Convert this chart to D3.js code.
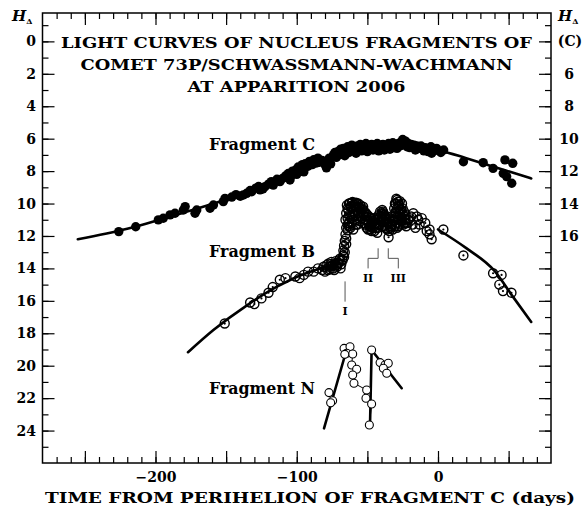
<!DOCTYPE html>
<html lang="en">
<head>
<meta charset="UTF-8">
<title>Light curves of 73P fragments</title>
<script src="https://d3js.org/d3.v7.min.js"></script>
<style>
  body { margin: 0; background: #fff; }
  svg { display: block; }
  .serif { font-family: 'DejaVu Serif', serif; font-weight: bold; fill: #000; }
</style>
</head>
<body>
<script>
// [days from perihelion of C, H_delta]
const fragC = [
  [-226,11.73],[-214,11.43],[-198,11.01],[-194.5,10.91],[-189.7,10.7],[-186.2,10.6],[-180.3,10.4],[-179,10.19],
  [-172,10.6],[-170.8,10.4],[-161.4,10.29],[-159,10.09],[-152,9.88],[-150.8,9.68],[-146,9.6],[-143,9.45],
  [-140,9.55],[-137.8,9.47],[-135.4,9.37],[-133,9.2],[-131.9,9.27],[-129,9.05],[-127,8.95],[-126,9.16],
  [-124,9.1],[-122.5,8.96],[-120,8.8],[-118,8.65],[-116.6,8.86],[-114,8.5],[-111.9,8.65],[-110,8.45],
  [-108,8.3],[-106,8.15],[-104.8,8.55],
  [-104,8.3],[-103,8.0],[-101,7.95],[-100,8.2],[-99,7.75],[-97,7.9],[-96,7.6],[-95,8.05],[-94,7.55],[-92,7.7],
  [-91,7.4],[-89,7.6],[-88,7.3],[-86,7.5],[-85,7.2],[-84,7.45],[-82,7.35],[-80,7.6],[-79,7.8],[-78,7.45],
  [-77,7.2],[-76,7.55],[-74,7.0],[-73,6.85],[-72,7.15],[-71,6.8],[-70,7.0],[-69,6.65],[-68,6.9],[-67,6.6],
  [-66,7.05],[-65,6.75],[-64,6.5],[-63,6.85],[-62,6.6],[-61,6.4],[-60,6.7],[-59,6.55],[-58,6.9],[-57,6.45],
  [-56,6.65],[-55,6.35],[-54,6.75],[-53,6.5],[-52,6.6],[-51,6.3],[-50,6.8],[-49,6.45],[-48,6.6],[-47,6.35],
  [-46,6.7],[-45,6.4],[-44,6.55],[-43,6.3],[-42,6.75],[-41,6.5],[-40,6.6],[-39,6.35],[-38,6.7],[-37,6.45],
  [-36,6.6],[-35,6.3],[-34,6.65],[-33,6.4],[-32,6.25],[-31,6.55],[-30,6.35],[-29,6.6],[-28,6.3],[-27,6.45],
  [-26,6.2],[-25,6.05],[-24,6.35],[-23,6.15],[-22,6.5],[-21,6.3],[-20,6.55],[-19,6.35],[-18,6.5],[-17,6.4],
  [-16,6.7],[-15,6.45],[-13,6.6],[-12,6.45],[-10,6.75],[-9,6.55],[-7,6.8],[-5,6.5],[-4.5,6.9],[-3,6.75],
  [-1,6.6],[2,6.85],[4,6.7],[18,7.42],[32,7.48],[39,7.83],[47.4,7.31],[52.9,7.52],[46.2,8.14],[48.6,8.34],[52.2,8.75]
];
const curveC = [[-255,12.2],[-220,11.55],[-180,10.55],[-150,9.75],[-120,8.75],[-100,8.0],[-80,7.3],
  [-60,6.85],[-40,6.6],[-20,6.55],[0,6.72],[20,7.2],[40,7.75],[66,8.45]];

const fragB = [
  [-151,17.4],[-133,16.1],[-130,16.2],[-125,15.85],[-120,15.5],[-117,15.15],[-112,14.7],[-108,14.6],
  [-101,14.5],[-98,14.6],[-95,14.4],[-92,14.2],[-88,14.2],[-85,14.0],[-82,14.1],[-81,13.9],[-80,14.2],
  [-79,13.8],[-78,14.1],[-77.5,13.7],[-77,13.9],[-76.5,14.05],[-76,13.75],[-75.5,13.6],[-75,13.85],
  [-74.5,13.8],[-74,14.0],[-73.5,14.1],[-73,13.7],[-72.5,13.55],[-72,13.8],[-71.5,13.9],[-71,13.65],
  [-70.5,13.7],[-70,13.5],[-69.5,13.4],[-69,14.0],[-68.5,13.75],[-68,13.45],[-67.5,13.5],[-67,13.2],
  [-67,12.9],[-66.5,13.3],[-66.5,12.6],[-66,13.0],[-66,12.3],[-65.5,11.9],[-65,12.5],[-65,12.15],[-65,11.5],
  [-64,11.65],[-63,11.2],
  [-65.5,11.0],[-65,10.6],[-64.5,10.1],[-64,10.9],[-63.5,10.4],[-63,11.4],[-62.5,10.0],[-62,10.8],[-61.5,10.3],
  [-61,11.2],[-60.5,9.9],[-60,10.5],[-59.5,11.0],[-59,10.2],[-58.5,10.7],[-58,9.95],[-57.5,10.4],[-57,11.3],
  [-56.5,10.0],[-56,10.6],[-55.5,10.3],[-55,11.1],[-54.5,10.5],[-54,10.9],[-53.5,10.3],[-53,11.2],[-52.5,10.6],
  [-52,11.0],
  [-64,10.3],[-63,10.0],[-62,10.2],[-61,9.95],[-60,10.1],[-59,10.0],[-58,10.25],[-57,10.05],[-56,10.2],[-55,10.1],
  [-54,10.35],[-53,10.2],[-52,10.5],[-63,10.7],[-61,10.9],[-59,10.6],[-57,11.0],[-55,10.8],[-53,10.7],
  [-64,11.3],[-62,11.5],[-60,11.6],[-58,11.3],
  [-51.5,11.3],[-51,10.6],[-50.5,11.5],[-50,10.7],[-49.5,11.6],[-49,10.8],[-48.5,11.4],[-48,11.6],[-47.5,10.9],
  [-47,11.7],[-46.5,11.2],[-46,11.5],[-45.5,10.9],[-45,11.7],[-44.5,11.0],[-44,11.5],[-43.5,11.3],[-43,10.9],
  [-42.5,11.5],[-42,10.7],[-41.5,11.3],[-41,10.5],[-40.5,11.1],[-40,10.9],[-39.5,10.4],[-39,11.0],[-38.5,10.6],
  [-38,11.3],[-37.5,10.8],[-37,11.5],[-36.5,10.9],[-36,11.6],[-35.5,11.2],[-35,10.9],[-34.5,11.7],[-34,11.1],
  [-33.5,11.5],[-33,10.8],[-32.5,11.3],[-32,11.6],
  [-51,10.8],[-50,11.0],[-49,11.2],[-48,10.9],[-47,11.3],[-46,11.1],
  [-45,11.4],[-44,11.2],[-43,11.8],[-42,11.0],[-41,10.8],[-40,10.6],[-39,10.5],[-38,10.7],[-37,11.0],[-36,11.2],
  [-39,11.4],[-35,12.08],[-34,11.5],[-33,11.4],[-32,11.0],[-31,10.8],[-30,10.5],[-30,10.0],[-29,9.78],[-28,9.9],
  [-31.5,11.1],[-31,10.3],[-30.5,11.4],[-30.5,10.0],[-30,10.9],[-29.5,9.7],[-29.5,10.6],[-29,10.3],[-29,11.2],
  [-28.5,9.9],[-28.5,10.8],[-28,10.5],[-28,11.4],[-27.5,10.1],[-27.5,11.0],[-27,9.85],[-26.5,10.7],[-26.5,11.3],
  [-26,10.4],[-25.5,10.0],[-25.5,11.0],[-25,10.6],[-24.5,11.3],[-24,10.5],[-23.5,11.0],[-23,10.7],[-22.5,11.4],
  [-28,10.2],[-27,10.4],[-27,10.6],[-26,10.9],[-26,11.1],[-25,10.3],[-24,10.8],[-29,11.5],[-23,11.2],[-22,11.2],
  [-21,11.0],[-20,10.9],[-19,10.8],[-18,11.3],[-17.5,10.6],[-16,11.5],[-15,10.8],[-14,11.0],[-13,11.3],
  [-11.5,10.9],[-9,11.2],[-8,11.7],[-6,11.6],[-6,11.9],[-4.5,12.2],[3.8,11.6],
  [18,13.2],[39,14.3],[45,14.4],[43.4,15.0],[46,15.4],[52,15.5]
];
const curveBLeft = [[-177,19.17],[-159,17.8],[-135,16.26],[-114,15.13],[-98,14.45],[-85,14.05],[-72,13.75]];
const curveBRight = [[0,11.6],[20,12.75],[40,14.15],[53,15.74],[66,17.3]];

const fragN = [
  [-77.2,21.66],[-74.6,22.16],[-76,22.28],[-66.5,18.93],[-62.3,18.83],[-64.6,19.23],[-60.4,19.28],[-66,19.3],
  [-61.1,19.96],[-57.6,20.22],[-60.4,20.57],[-59.5,21.08],[-50.5,21.5],[-51,22.01],[-47,22.36],[-48.6,23.66],
  [-47,19.03],[-41,19.81],[-37.5,19.96],[-35.2,19.85],[-38.7,20.16],[-36.3,20.47]
];
const segN = [
  [[-80.7,23.86],[-65.8,19.34]],
  [[-47,19.03],[-48.1,23.55]],
  [[-47,19.03],[-25.7,21.39]]
];
const thinN = [[-60.4,19.28],[-61.1,19.96],[-57.6,20.22],[-60.4,20.57],[-59.5,21.08],[-50.5,21.5],
  [-51,22.01],[-47,22.36],[-48.6,23.66]];

// event markers I, II, III
const events = [
  {name: "I", t1: -65.8, t2: -65.8, h1: 14.8, h2: 16.05, h3: 16.05, lh: 16.9},
  {name: "II", t1: -42.4, t2: -49.5, h1: 12.76, h2: 13.38, h3: 14.0, lh: 14.85},
  {name: "III", t1: -35.2, t2: -28.1, h1: 12.76, h2: 13.38, h3: 14.0, lh: 14.85}
];

const xTickLabels = [-200, -100, 0];
const leftTickLabels = [0, 2, 4, 6, 8, 10, 12, 14, 16, 18, 20, 22, 24];
const rightTickLabels = [6, 8, 10, 12, 14, 16];
const rightOffset = 4;
const titleLines = ["LIGHT CURVES OF NUCLEUS FRAGMENTS OF", "COMET 73P/SCHWASSMANN-WACHMANN", "AT APPARITION 2006"];
const fragLabels = [["Fragment C", 150], ["Fragment B", 256.7], ["Fragment N", 394]];

const width = 585, height = 511;
const svg = d3.select("body").append("svg").attr("width", width).attr("height", height);

const x = d3.scaleLinear().domain([-280, 80]).range([42.5, 551]);
const y = d3.scaleLinear().domain([-1.75, 26]).range([13, 463]);
const [x0, x1] = x.range(), [y0, y1] = y.range();

// tick marks on all four sides, pointing inward
function tickLayer(axis, tx, ty) {
  const g = svg.append("g").attr("transform", `translate(${tx},${ty})`).call(axis);
  g.select(".domain").remove();
  g.selectAll("line").attr("stroke", "#000").attr("stroke-width", 1.2);
  return g;
}
const minorX = d3.range(-270, 80, 10), majorX = d3.range(-250, 80, 50);
const minorY = d3.range(-1, 26, 1), majorY = d3.range(0, 26, 2);
tickLayer(d3.axisBottom(x).tickValues(minorX).tickSize(-6).tickFormat(""), 0, y1);
tickLayer(d3.axisBottom(x).tickValues(majorX).tickSize(-12).tickFormat(""), 0, y1);
tickLayer(d3.axisTop(x).tickValues(minorX).tickSize(-6).tickFormat(""), 0, y0);
tickLayer(d3.axisTop(x).tickValues(majorX).tickSize(-12).tickFormat(""), 0, y0);
tickLayer(d3.axisLeft(y).tickValues(minorY).tickSize(-6).tickFormat(""), x0, 0);
tickLayer(d3.axisLeft(y).tickValues(majorY).tickSize(-12).tickFormat(""), x0, 0);
tickLayer(d3.axisRight(y).tickValues(minorY).tickSize(-6).tickFormat(""), x1, 0);
tickLayer(d3.axisRight(y).tickValues(majorY).tickSize(-12).tickFormat(""), x1, 0);

svg.append("rect").attr("x", x0).attr("y", y0).attr("width", x1 - x0).attr("height", y1 - y0)
  .attr("fill", "none").attr("stroke", "#000").attr("stroke-width", 1.5);

// tick labels
const bx = tickLayer(d3.axisBottom(x).tickValues(xTickLabels).tickSize(0), 0, y1);
bx.selectAll("text").attr("class", "serif").attr("y", 19).attr("dy", 0).attr("font-size", 14);
const ly = tickLayer(d3.axisLeft(y).tickValues(leftTickLabels).tickSize(0).tickPadding(6.5), x0, 0);
ly.selectAll("text").attr("class", "serif").attr("font-size", 14);
const ry = tickLayer(d3.axisRight(y).tickValues(rightTickLabels.map(v => v - rightOffset))
  .tickFormat(d => d + rightOffset).tickSize(0), x1, 0);
ry.selectAll("text").attr("class", "serif").attr("font-size", 14)
  .attr("x", 18).attr("text-anchor", "middle");
svg.selectAll("g").attr("font-family", null).attr("font-size", null);

// H_delta headers
function hDelta(xp, yp) {
  const t = svg.append("text").attr("class", "serif").attr("x", xp).attr("y", yp).attr("font-size", 15);
  t.append("tspan").attr("font-style", "italic").text("H");
  t.append("tspan").attr("font-size", 8).attr("dy", 3).text("Δ");
}
hDelta(12, 21);
hDelta(558, 21);
svg.append("text").attr("class", "serif").attr("x", 570).attr("y", y(0) + 5)
  .attr("text-anchor", "middle").attr("font-size", 14).text("(C)");

// curves
const line = d3.line().x(d => x(d[0])).y(d => y(d[1]));
const smooth = d3.line().x(d => x(d[0])).y(d => y(d[1])).curve(d3.curveMonotoneX);
[curveC, curveBLeft, curveBRight].forEach(c => {
  svg.append("path").attr("d", smooth(c)).attr("fill", "none").attr("stroke", "#000")
    .attr("stroke-width", 2.6).attr("stroke-linecap", "round");
});
segN.forEach(s => {
  svg.append("path").attr("d", line(s)).attr("fill", "none").attr("stroke", "#000")
    .attr("stroke-width", 2.6).attr("stroke-linecap", "round");
});
svg.append("path").attr("d", line(thinN)).attr("fill", "none").attr("stroke", "#000").attr("stroke-width", 1);

// event markers
const evG = svg.append("g").attr("stroke", "#555").attr("stroke-width", 1).attr("fill", "none");
events.forEach(e => {
  const pts = [[e.t1, e.h1], [e.t1, e.h2], [e.t2, e.h2], [e.t2, e.h3]];
  evG.append("path").attr("d", line(pts));
  svg.append("text").attr("class", "serif").attr("x", x(e.t2)).attr("y", y(e.lh))
    .attr("text-anchor", "middle").attr("font-size", 11).text(e.name);
});

// fragment C: filled dots
svg.append("g").selectAll("circle").data(fragC).join("circle")
  .attr("cx", d => x(d[0])).attr("cy", d => y(d[1])).attr("r", 4.7).attr("fill", "#000");

// fragment B: open circles with centre dot (outlines pile up in dense parts)
const bG = svg.append("g").selectAll("g").data(fragB).join("g")
  .attr("transform", d => `translate(${x(d[0])},${y(d[1])})`);
bG.append("circle").attr("r", 4.5).attr("fill", "none").attr("stroke", "#000").attr("stroke-width", 1.4);
bG.append("circle").attr("r", 1.1).attr("fill", "#000");

// fragment N: open circles
svg.append("g").selectAll("circle").data(fragN).join("circle")
  .attr("cx", d => x(d[0])).attr("cy", d => y(d[1])).attr("r", 4)
  .attr("fill", "#fff").attr("stroke", "#000").attr("stroke-width", 1.1);

// title
const tl = titleLines.map((s, i) => svg.append("text").attr("class", "serif")
  .attr("x", 296.5).attr("y", 47.7 + i * 22).attr("text-anchor", "middle").attr("font-size", 15).text(s));
const stretch = 471 / tl[0].node().getComputedTextLength();
tl.forEach(t => t.attr("textLength", t.node().getComputedTextLength() * stretch)
  .attr("lengthAdjust", "spacingAndGlyphs"));

// fragment labels
fragLabels.forEach(([s, yy]) => {
  svg.append("text").attr("class", "serif").attr("x", 209).attr("y", yy)
    .attr("font-size", 16).attr("textLength", 106).attr("lengthAdjust", "spacingAndGlyphs").text(s);
});

// x axis title
svg.append("text").attr("class", "serif").attr("x", 310).attr("y", 503).attr("text-anchor", "middle")
  .attr("font-size", 15).attr("textLength", 530).attr("lengthAdjust", "spacingAndGlyphs")
  .text("TIME FROM PERIHELION OF FRAGMENT C (days)");
</script>
</body>
</html>
